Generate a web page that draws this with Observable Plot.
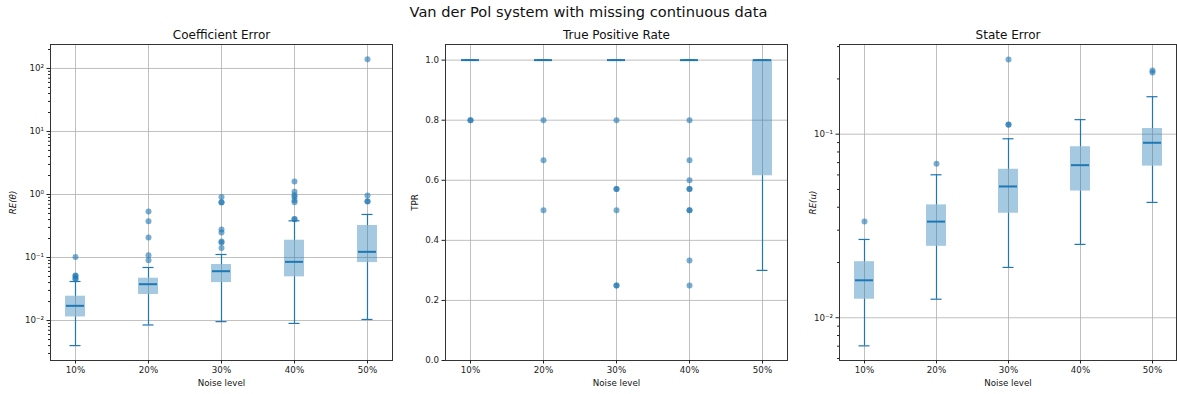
<!DOCTYPE html>
<html>
<head>
<meta charset="utf-8">
<script src="https://cdn.jsdelivr.net/npm/d3@7"></script>
<script src="https://cdn.jsdelivr.net/npm/@observablehq/plot@0.6"></script>
<style>
  body { margin: 0; background: #fff; }
  #wrap { position: relative; width: 1177px; height: 394px; font-family: "DejaVu Sans", sans-serif; }
  #title { position: absolute; left: 0; width: 1177px; top: 3px; text-align: center; font-size: 14.6px; color: #111; }
  .panel { position: absolute; top: 0; }
</style>
</head>
<body>
<div id="wrap">
  <div id="title">Van der Pol system with missing continuous data</div>
</div>
<script>
// ---- data ----
const noiseLevels = ["10%", "20%", "30%", "40%", "50%"];

// Coefficient error RE(θ)
const coefQ1  = [0.0114, 0.0259, 0.0400, 0.0493, 0.083];
const coefMed = [0.0171, 0.0377, 0.0606, 0.0853, 0.123];
const coefQ3  = [0.0243, 0.0469, 0.0774, 0.188, 0.322];
const coefLo  = [0.0040, 0.0085, 0.0096, 0.0090, 0.0104];
const coefHi  = [0.0416, 0.0694, 0.1116, 0.382, 0.482];
const coefOut = [
  [0.102, 0.052, 0.051, 0.047, 0.045],
  [0.0906, 0.109, 0.208, 0.377, 0.537],
  [0.142, 0.173, 0.180, 0.249, 0.278, 0.746, 0.750, 0.916],
  [0.405, 0.41, 0.755, 0.81, 0.916, 0.97, 1.11, 1.61],
  [0.774, 0.78, 0.96, 140]
];

// True positive rate
const tprQ1  = [1.0, 1.0, 1.0, 1.0, 0.615];
const tprMed = [1.0, 1.0, 1.0, 1.0, 1.0];
const tprQ3  = [1.0, 1.0, 1.0, 1.0, 1.0];
const tprLo  = [1.0, 1.0, 1.0, 1.0, 0.30];
const tprHi  = [1.0, 1.0, 1.0, 1.0, 1.0];
const tprOut = [
  [0.8, 0.8],
  [0.8, 0.667, 0.5],
  [0.8, 0.571, 0.571, 0.5, 0.25, 0.25],
  [0.8, 0.667, 0.6, 0.571, 0.571, 0.5, 0.5, 0.333, 0.25],
  []
];

// State error RE(u)
const stQ1  = [0.01262, 0.0245, 0.0371, 0.0490, 0.0670];
const stMed = [0.0160, 0.0334, 0.0519, 0.0678, 0.0898];
const stQ3  = [0.0202, 0.0412, 0.0644, 0.0854, 0.1074];
const stLo  = [0.00703, 0.01262, 0.0188, 0.0251, 0.0425];
const stHi  = [0.0267, 0.0601, 0.0944, 0.120, 0.160];
const stOut = [
  [0.0334],
  [0.069],
  [0.1125, 0.113, 0.255],
  [],
  [0.222, 0.217]
];

// tick labels
const coefMajor = [0.01, 0.1, 1, 10, 100];
const coefMajorLabels = ["10⁻²", "10⁻¹", "10⁰", "10¹", "10²"];
const stMajor = [0.01, 0.1];
const stMajorLabels = ["10⁻²", "10⁻¹"];
const tprTicks = [0, 0.2, 0.4, 0.6, 0.8, 1.0];
const tprTickLabels = ["0.0", "0.2", "0.4", "0.6", "0.8", "1.0"];

// ---- drawing ----
const BLUE = "#1f77b4";

function minorTicks(lo, hi) {
  const out = [];
  for (let e = -4; e <= 3; e++) for (let k = 2; k <= 9; k++) {
    const v = k * Math.pow(10, e);
    if (v >= lo && v <= hi) out.push(v);
  }
  return out;
}

function panel(cfg) {
  const rows = noiseLevels.map((c, i) => ({
    cat: c, q1: cfg.q1[i], med: cfg.med[i], q3: cfg.q3[i], lo: cfg.lo[i], hi: cfg.hi[i]
  }));
  const outs = noiseLevels.flatMap((c, i) => cfg.out[i].map(v => ({cat: c, v})));
  const fmt = d => cfg.majorLabels[cfg.major.indexOf(d)] ?? "";
  const marks = [
    Plot.gridX(noiseLevels, {stroke: "#b0b0b0", strokeOpacity: 1, strokeWidth: 0.8}),
    Plot.gridY(cfg.major, {stroke: "#b0b0b0", strokeOpacity: 1, strokeWidth: 0.8}),
    Plot.barY(rows, {x: "cat", y1: "q1", y2: "q3", fill: BLUE, fillOpacity: 0.4}),
    Plot.ruleX(rows, {x: "cat", y1: "lo", y2: "q1", stroke: BLUE, strokeWidth: 1.2}),
    Plot.ruleX(rows, {x: "cat", y1: "q3", y2: "hi", stroke: BLUE, strokeWidth: 1.2}),
    Plot.tickY(rows, {x: "cat", y: "lo", stroke: BLUE, strokeWidth: 1.2, insetLeft: 4.5, insetRight: 4.5}),
    Plot.tickY(rows, {x: "cat", y: "hi", stroke: BLUE, strokeWidth: 1.2, insetLeft: 4.5, insetRight: 4.5}),
    Plot.tickY(rows, {x: "cat", y: "med", stroke: BLUE, strokeWidth: 2, insetLeft: 1, insetRight: 1}),
    Plot.dot(outs, {x: "cat", y: "v", r: 3, fill: BLUE, fillOpacity: 0.6, stroke: "none"}),
    Plot.frame({stroke: "#333", strokeWidth: 1}),
    Plot.axisX({tickSize: 3.5, tickPadding: 3, label: null}),
    Plot.axisY({ticks: cfg.major, tickFormat: fmt, tickSize: 3.5, tickPadding: 3, label: null}),
    Plot.text([cfg.title], {frameAnchor: "top", lineAnchor: "middle", dy: -9, fontSize: 12, fill: "#111"}),
    Plot.text(["Noise level"], {frameAnchor: "bottom", lineAnchor: "middle", dy: 23, fontSize: 8.7, fill: "#111"}),
    Plot.text([cfg.ylabel], {frameAnchor: "left", textAnchor: "middle", lineAnchor: "middle", dx: cfg.ylabelDx, rotate: -90, fontSize: 8.7, fill: "#111", fontStyle: cfg.italic ? "italic" : "normal"})
  ];
  if (cfg.minor) marks.splice(12, 0, Plot.axisY({ticks: cfg.minor, tickFormat: () => "", tickSize: 2, label: null}));
  const svg = Plot.plot({
    width: cfg.width,
    height: 394,
    marginLeft: cfg.marginLeft,
    marginRight: cfg.marginRight,
    marginTop: 44,
    marginBottom: 34,
    style: {fontFamily: "DejaVu Sans, sans-serif", fontSize: "8.7px", color: "#222", background: "transparent"},
    x: {type: "band", domain: noiseLevels, paddingInner: 0.727, paddingOuter: 0.2},
    y: cfg.y,
    marks
  });
  svg.classList.add("panel");
  svg.style.left = cfg.left + "px";
  document.getElementById("wrap").appendChild(svg);
}

panel({
  left: 0, width: 400, marginLeft: 50, marginRight: 8,
  title: "Coefficient Error", ylabel: "RE(θ)", italic: true, ylabelDx: -37.5,
  y: {type: "log", domain: [0.00232, 240]},
  major: coefMajor, majorLabels: coefMajorLabels, minor: minorTicks(0.00232, 240),
  q1: coefQ1, med: coefMed, q3: coefQ3, lo: coefLo, hi: coefHi, out: coefOut
});
panel({
  left: 400, width: 395, marginLeft: 45, marginRight: 8,
  title: "True Positive Rate", ylabel: "TPR", italic: false, ylabelDx: -30,
  y: {type: "linear", domain: [0, 1.052]},
  major: tprTicks, majorLabels: tprTickLabels, minor: null,
  q1: tprQ1, med: tprMed, q3: tprQ3, lo: tprLo, hi: tprHi, out: tprOut
});
panel({
  left: 790, width: 387, marginLeft: 49, marginRight: 1,
  title: "State Error", ylabel: "RE(u)", italic: true, ylabelDx: -26.5,
  y: {type: "log", domain: [0.00585, 0.308]},
  major: stMajor, majorLabels: stMajorLabels, minor: minorTicks(0.00585, 0.308),
  q1: stQ1, med: stMed, q3: stQ3, lo: stLo, hi: stHi, out: stOut
});
</script>
</body>
</html>
